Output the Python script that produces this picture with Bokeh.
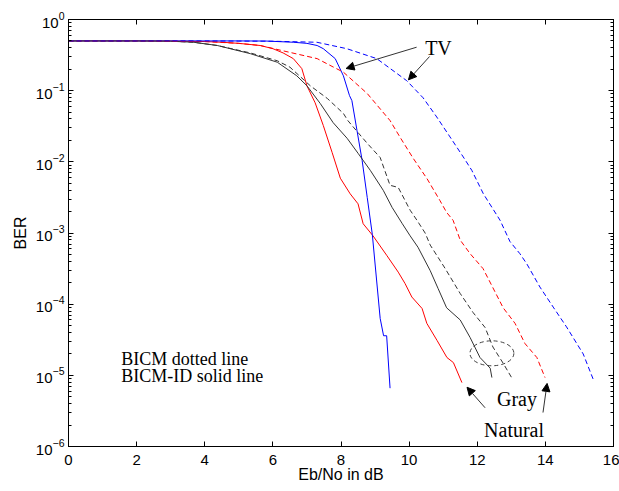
from bokeh.plotting import figure
from bokeh.models import (LogAxis, LinearAxis, Label, Arrow, NormalHead, FixedTicker, LogTicker,
                          CustomJSTickFormatter)
from bokeh.embed import file_html
from bokeh.resources import INLINE

# ---- data (Eb/No in dB, BER) ----
id_nat_x = [0, 2, 3, 4, 4.5, 5.0, 5.63, 6.0, 6.3, 6.6, 6.85, 7.0, 7.24, 7.48, 7.74, 7.98, 8.27, 8.5,
            8.65, 8.94, 9.35, 9.68, 9.88, 10.08, 10.38, 10.52, 10.82, 11.11, 11.3, 11.55]
id_nat_y = [0.5, 0.5, 0.499, 0.49, 0.479, 0.462, 0.431, 0.389, 0.339, 0.282, 0.204, 0.117, 0.0676,
            0.0324, 0.0135, 0.00589, 0.00355, 0.00257, 0.00135, 0.000912, 0.000479, 0.000282,
            0.000195, 0.000126, 8.7e-5, 5.37e-5, 3.09e-5, 1.78e-5, 1.51e-5, 7.9e-6]

id_tv_x = [0, 2, 4, 5, 5.8, 6.6, 7.0, 7.3, 7.48, 7.83, 8.07, 8.25, 8.32, 8.47, 8.62, 8.77, 8.92,
           9.15, 9.25, 9.34, 9.44]
id_tv_y = [0.5, 0.5, 0.5, 0.5, 0.498, 0.479, 0.462, 0.431, 0.389, 0.282, 0.162, 0.0851, 0.0724,
           0.0275, 0.0105, 0.00316, 0.00095, 6.3e-5, 3.6e-5, 3.6e-5, 6.6e-6]

id_gray_x = [0, 2, 3, 3.67, 4.37, 5.34, 6.13, 6.7, 7.0, 7.39, 7.77, 8.18, 8.5, 8.86, 9.24, 9.5,
             9.8, 10.03, 10.26, 10.62, 10.85, 11.1, 11.5, 11.79, 12.08, 12.38, 12.43]
id_gray_y = [0.5, 0.5, 0.495, 0.479, 0.431, 0.331, 0.251, 0.162, 0.117, 0.0661, 0.0355, 0.0214,
             0.0132, 0.00759, 0.00398, 0.00229, 0.00135, 0.000912, 0.000631, 0.000295, 0.000166,
             8.9e-5, 6.0e-5, 3.4e-5, 1.78e-5, 1.26e-5, 9.3e-6]

bicm_gray_x = [0, 2, 3, 3.67, 4.37, 5.34, 6.13, 6.5, 7.1, 7.6, 8.07, 8.2, 8.77, 9.15, 9.44, 9.68,
               10.03, 10.23, 10.47, 10.62, 11.06, 11.5, 11.88, 12.23, 12.46, 12.76, 13.02]
bicm_gray_y = [0.5, 0.5, 0.495, 0.479, 0.431, 0.339, 0.263, 0.214, 0.117, 0.0776, 0.0479, 0.038,
               0.0182, 0.0115, 0.00468, 0.00437, 0.00209, 0.00151, 0.001, 0.000676, 0.000316,
               0.000141, 7.6e-5, 4.7e-5, 2.5e-5, 1.48e-5, 9.1e-6]

bicm_nat_x = [0, 2, 4, 5, 5.63, 6.3, 7.3, 7.78, 8.07, 8.77, 9.44, 9.74, 10.12, 10.53, 10.9, 11.1,
              11.29, 11.5, 11.79, 12.17, 12.46, 12.76, 13.11, 13.4, 13.75, 13.99]
bicm_nat_y = [0.5, 0.5, 0.49, 0.462, 0.431, 0.363, 0.282, 0.214, 0.182, 0.0912, 0.038, 0.0219,
              0.0112, 0.00575, 0.00288, 0.00195, 0.00151, 0.000794, 0.000513, 0.000316, 0.00017,
              8.9e-5, 5.37e-5, 2.8e-5, 1.78e-5, 9.3e-6]

bicm_tv_x = [0, 2, 4, 6, 7.29, 8.17, 9.05, 9.93, 10.41, 10.81, 11.2, 11.59, 11.84, 12.18, 12.67,
             12.96, 13.25, 13.45, 13.84, 14.23, 14.62, 15.11, 15.4]
bicm_tv_y = [0.5, 0.5, 0.5, 0.495, 0.479, 0.389, 0.282, 0.138, 0.0794, 0.0427, 0.0224, 0.0117,
             0.00759, 0.00355, 0.00151, 0.000759, 0.000513, 0.000372, 0.000174, 9.1e-5, 4.8e-5,
             2.0e-5, 8.9e-6]

x_ticks = [0, 2, 4, 6, 8, 10, 12, 14, 16]

RED = "#ff0000"
BLUE = "#0000ff"
BLACK = "#333333"
DASH = "5 3"

p = figure(width=619, height=491, x_range=(0, 16), y_range=(1e-6, 1), y_axis_type="log",
           output_backend="svg", toolbar_location=None,
           min_border_left=68, min_border_top=19, min_border_right=6, min_border_bottom=45)
p.xgrid.visible = False
p.ygrid.visible = False
p.outline_line_color = "black"
p.outline_line_alpha = 1.0
p.background_fill_color = "white"
p.border_fill_color = "white"

# lines
p.line(id_nat_x, id_nat_y, line_color=RED, line_width=1)
p.line(id_tv_x, id_tv_y, line_color=BLUE, line_width=1)
p.line(id_gray_x, id_gray_y, line_color=BLACK, line_width=1)
p.line(bicm_gray_x, bicm_gray_y, line_color=BLACK, line_width=1, line_dash=DASH)
p.line(bicm_nat_x, bicm_nat_y, line_color=RED, line_width=1, line_dash=DASH)
p.line(bicm_tv_x, bicm_tv_y, line_color=BLUE, line_width=1, line_dash=DASH)

TICK_FONT = "Liberation Sans"


def style_axis(ax):
    ax.axis_line_color = "black"
    ax.major_tick_in = 5
    ax.major_tick_out = 0
    ax.minor_tick_in = 3
    ax.minor_tick_out = 0
    ax.major_tick_line_color = "black"
    ax.minor_tick_line_color = "black"
    ax.major_label_text_font = TICK_FONT
    ax.major_label_text_font_size = "15px"
    ax.major_label_text_color = "black"
    ax.axis_label_text_font = TICK_FONT
    ax.axis_label_text_font_size = "16px"
    ax.axis_label_text_font_style = "normal"
    ax.axis_label_text_color = "black"


xa = p.xaxis[0]
xa.ticker = FixedTicker(ticks=x_ticks)
xa.axis_label = "Eb/No in dB"
style_axis(xa)
xa.major_label_standoff = 8
xa.axis_label_standoff = -2
xa.minor_tick_in = 0

ya = p.yaxis[0]
ya.ticker = LogTicker(num_minor_ticks=10)
ya.axis_label = "BER"
style_axis(ya)
ya.major_label_standoff = 4
ya.axis_label_standoff = 4

blank = CustomJSTickFormatter(code="return ''")

# frame ticks on top and right (no labels)
top = LinearAxis(ticker=FixedTicker(ticks=x_ticks), formatter=blank,
                 major_label_text_font_size="1px", major_label_standoff=0)
top.axis_line_color = "black"
top.major_tick_in = 5
top.major_tick_out = 0
top.minor_tick_in = 0
top.minor_tick_out = 0
p.add_layout(top, "above")

right = LogAxis(ticker=LogTicker(num_minor_ticks=10), formatter=blank,
                major_label_text_font_size="1px", major_label_standoff=0)
right.axis_line_color = "black"
right.major_tick_in = 5
right.major_tick_out = 0
right.minor_tick_in = 3
right.minor_tick_out = 0
p.add_layout(right, "right")

# annotations
SERIF = "Liberation Serif"
p.add_layout(Label(x=10.47, y=0.404, text="TV", text_font=SERIF, text_font_size="20px",
                   text_color="black", text_baseline="alphabetic"))
p.add_layout(Label(x=12.58, y=4.7e-6, text="Gray", text_font=SERIF, text_font_size="20px",
                   text_color="black", text_baseline="alphabetic"))
p.add_layout(Label(x=12.2, y=1.68e-6, text="Natural", text_font=SERIF, text_font_size="20px",
                   text_color="black", text_baseline="alphabetic"))
p.add_layout(Label(x=1.55, y=1.67e-5, text="BICM dotted line", text_font=SERIF,
                   text_font_size="18px", text_color="black", text_baseline="alphabetic"))
p.add_layout(Label(x=1.55, y=0.98e-5, text="BICM-ID solid line", text_font=SERIF,
                   text_font_size="18px", text_color="black", text_baseline="alphabetic"))


def arrow(x0, y0, x1, y1):
    p.add_layout(Arrow(end=NormalHead(size=8, fill_color="black", line_color="black", line_width=1),
                       x_start=x0, y_start=y0, x_end=x1, y_end=y1,
                       line_color="#333333", line_width=1))


arrow(10.22, 0.408, 8.15, 0.205)
arrow(10.6, 0.302, 9.98, 0.142)
arrow(12.23, 3.5e-6, 11.7, 6.8e-6)
arrow(13.93, 3.0e-6, 14.05, 7.7e-6)

p.ellipse(x=[12.43], y=[2.04e-5], width=44, height=25, width_units="screen", height_units="screen",
          fill_color=None, line_color="#404040", line_width=1, line_dash="4 3")

open("out.html", "w").write(file_html(p, INLINE))
